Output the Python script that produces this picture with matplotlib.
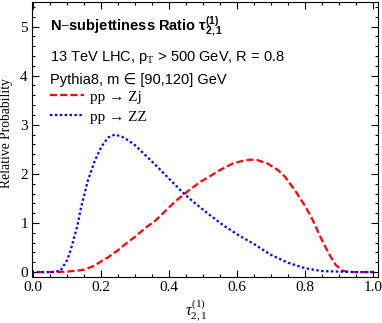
import numpy as np
import matplotlib.pyplot as plt
from matplotlib.ticker import MultipleLocator, FormatStrFormatter

# Zj (red dashed)
x_zj = [0.01, 0.05, 0.08, 0.10, 0.13, 0.15, 0.18, 0.20, 0.22, 0.25, 0.28, 0.30,
        0.33, 0.36, 0.40, 0.42, 0.45, 0.49, 0.52, 0.55, 0.59, 0.62, 0.64, 0.66,
        0.69, 0.72, 0.74, 0.77, 0.80, 0.82, 0.85, 0.87, 0.89, 0.91, 0.93, 0.96, 1.0]
y_zj = [0, 0, 0.005, 0.01, 0.03, 0.05, 0.13, 0.22, 0.30, 0.45, 0.62, 0.72,
        0.90, 1.05, 1.32, 1.45, 1.62, 1.83, 1.95, 2.08, 2.22, 2.27, 2.29, 2.28,
        2.21, 2.08, 1.95, 1.67, 1.35, 1.10, 0.65, 0.38, 0.15, 0.03, 0.0, 0.0, 0.0]

# ZZ (blue dotted)
x_zz = [0.01, 0.04, 0.06, 0.08, 0.10, 0.11, 0.13, 0.14, 0.16, 0.18, 0.20, 0.22,
        0.24, 0.26, 0.28, 0.30, 0.33, 0.36, 0.40, 0.44, 0.48, 0.52, 0.56, 0.60,
        0.65, 0.70, 0.75, 0.80, 0.85, 0.90, 0.95, 1.0]
y_zz = [0, 0, 0.005, 0.03, 0.25, 0.45, 0.95, 1.30, 1.85, 2.25, 2.55, 2.74,
        2.80, 2.76, 2.68, 2.58, 2.38, 2.18, 1.90, 1.62, 1.38, 1.16, 0.95, 0.77,
        0.57, 0.35, 0.19, 0.08, 0.02, 0.01, 0.0, 0.0]

serif = ['Liberation Serif', 'DejaVu Serif']
sans = ['Liberation Sans', 'DejaVu Sans']
plt.rcParams['mathtext.fontset'] = 'custom'
plt.rcParams['mathtext.rm'] = 'Liberation Serif'
plt.rcParams['mathtext.it'] = 'Liberation Serif:italic'
plt.rcParams['mathtext.bf'] = 'Liberation Sans:bold'

fig = plt.figure(figsize=(3.82, 3.23), dpi=100)
ax = fig.add_axes([32/382, 1 - 277/323, 346/382, 275/323])

ax.plot(x_zj, y_zj, color='#ff0000', lw=1.6, ls=(0, (3.2, 1.4)), label='pp \u2192 Zj')
ax.plot(x_zz, y_zz, color='#0000ff', lw=1.6, ls=(0, (1.1, 1.1)), label='pp \u2192 ZZ')

ax.set_xlim(-0.004, 1.015)
ax.set_ylim(-0.1, 5.5)
ax.xaxis.set_major_locator(MultipleLocator(0.2))
ax.xaxis.set_minor_locator(MultipleLocator(0.05))
ax.xaxis.set_major_formatter(FormatStrFormatter('%.1f'))
ax.yaxis.set_major_locator(MultipleLocator(1))
ax.yaxis.set_minor_locator(MultipleLocator(0.2))
ax.yaxis.set_major_formatter(FormatStrFormatter('%d'))
ax.tick_params(which='both', direction='in', top=True, right=True, width=0.8)
ax.tick_params(which='major', length=5, labelsize=11, pad=3)
ax.tick_params(which='minor', length=2.5)
for lab in ax.get_xticklabels() + ax.get_yticklabels():
    lab.set_family(serif)

fig.text(7/382, 1 - 133/323, 'Relative Probability', family=serif, fontsize=9.8,
         rotation=90, ha='center', va='center')
fig.text(196/382, 1 - 311/323, r'$\tau_{2,1}^{(1)}$', fontsize=11.5,
         ha='center', va='center')

ax.text(0.052, 0.91, r'N$-$subjettiness Ratio $\mathbf{\tau_{2,1}^{(1)}}$',
        transform=ax.transAxes, family=sans, fontsize=10.5, fontweight='bold', va='center')
ax.text(0.052, 0.80, r'13 TeV LHC, p$_\mathrm{T}$ > 500 GeV, R = 0.8',
        transform=ax.transAxes, family=sans, fontsize=10.5, va='center')
ax.text(0.052, 0.715, 'Pythia8, m \u2208 [90,120] GeV',
        transform=ax.transAxes, family=sans, fontsize=10.5, va='center')

leg = ax.legend(loc='upper left', bbox_to_anchor=(0.052, 0.68), frameon=False,
                prop={'family': serif, 'size': 11}, handlelength=2.2,
                handletextpad=0.45, labelspacing=0.42, borderaxespad=0, borderpad=0)

fig.savefig('out.png', dpi=100)
